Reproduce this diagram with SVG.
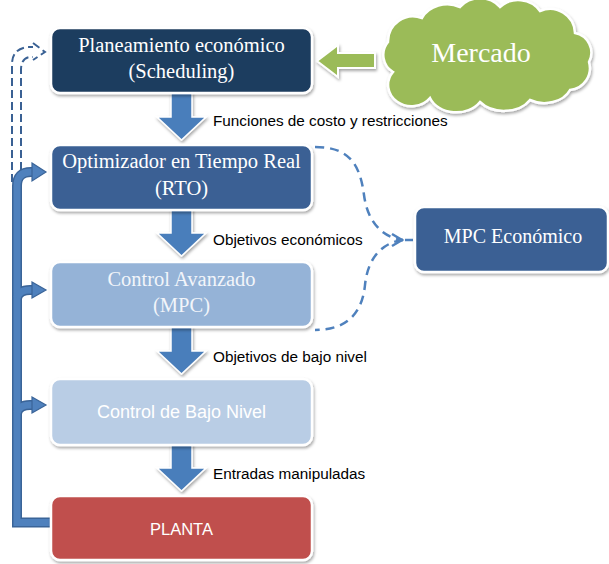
<svg xmlns="http://www.w3.org/2000/svg" width="609" height="564" viewBox="0 0 609 564">
<defs>
<filter id="sh" x="-10%" y="-10%" width="130%" height="140%">
<feDropShadow dx="1" dy="2" stdDeviation="1.5" flood-color="#000" flood-opacity="0.35"/>
</filter>
<path id="dn" d="M -10.5,0 H 10.5 V 24 H 24.5 L 0,47 L -24.5,24 H -10.5 Z"/>
</defs>
<style>
.box{stroke:#fff;stroke-width:2.5;filter:url(#sh)}
.serif{font-family:"Liberation Serif","Times New Roman",serif;text-anchor:middle}
.sans{font-family:"Liberation Sans",Arial,sans-serif}
.lbl{font-size:15.3px;fill:#000}
.darr{fill:#4a7ebb;stroke:#fff;stroke-width:1.5;filter:url(#sh)}
.fbo{fill:none;stroke:#3a6498;stroke-width:10}
.fbi{fill:none;stroke:#4f81bd;stroke-width:7}
.head{fill:#4f81bd;stroke:#3a6498;stroke-width:1.2}
.dash{fill:none;stroke:#4f81bd;stroke-width:2.5;stroke-dasharray:9 6}
.dash2{fill:none;stroke:#3a6194;stroke-width:2;stroke-dasharray:8 4}
</style>

<g id="connectors">
<use href="#dn" class="darr" transform="translate(181.5,93)"/>
<use href="#dn" class="darr" transform="translate(181.5,209)"/>
<use href="#dn" class="darr" transform="translate(181.5,327)"/>
<use href="#dn" class="darr" transform="translate(181.5,444)"/>
<text class="sans lbl" x="213" y="126">Funciones de costo y restricciones</text>
<text class="sans lbl" x="213" y="245">Objetivos económicos</text>
<text class="sans lbl" x="213" y="362">Objetivos de bajo nivel</text>
<text class="sans lbl" x="213" y="479">Entradas manipuladas</text>

<path d="M 375,53 H 338 V 45 L 317,61 L 338,77 V 68 H 375 Z" fill="#9bbb59" stroke="#fff" stroke-width="2" filter="url(#sh)"/>

<path class="dash2" d="M 12,182 V 64 Q 12,49 28,47 H 33"/>
<path class="dash2" d="M 33,43 L 45,52 L 33,60"/>
<path class="dash2" d="M 21,182 V 70 Q 21,58 30,57 H 33"/>

<g>
<path class="fbo" d="M 51,522.5 H 17 V 186 Q 17,172 31,172 H 34"/>
<path class="fbo" d="M 17,298 Q 19,290 30,290 H 34"/>
<path class="fbo" d="M 17,413 Q 19,405 30,405 H 34"/>
<path class="fbi" d="M 51,522.5 H 17 V 186 Q 17,172 31,172 H 34"/>
<path class="fbi" d="M 17,298 Q 19,290 30,290 H 34"/>
<path class="fbi" d="M 17,413 Q 19,405 30,405 H 34"/>
<polygon class="head" points="32,163 46,172 32,181"/>
<polygon class="head" points="32,282 46,290 32,298"/>
<polygon class="head" points="32,397 46,405 32,413"/>
</g>

<path class="dash" d="M 315,147 C 350,147 360,165 364,195 C 368,225 385,238 403,240"/>
<path class="dash" d="M 403,240 C 385,242 368,255 365,285 C 362,315 345,330 315,330"/>
<path d="M 392,234 L 402,240 L 392,246" fill="none" stroke="#4f81bd" stroke-width="2.5"/>
<path d="M 405,240 H 413" fill="none" stroke="#4f81bd" stroke-width="2.5"/>
</g>

<g id="planeamiento">
<rect class="box" x="51" y="28" width="261" height="65" rx="9" fill="#1f3c5e"/>
<text class="serif" x="181.5" y="52" font-size="20.5" fill="#fff">Planeamiento económico</text>
<text class="serif" x="181.5" y="78" font-size="20.5" fill="#fff">(Scheduling)</text>
</g>
<g id="rto">
<rect class="box" x="51" y="145" width="261" height="65" rx="9" fill="#3a6194"/>
<text class="serif" x="181.5" y="168" font-size="20.5" fill="#fff">Optimizador en Tiempo Real</text>
<text class="serif" x="181.5" y="195" font-size="20.5" fill="#fff">(RTO)</text>
</g>
<g id="mpc">
<rect class="box" x="51" y="262" width="261" height="65" rx="9" fill="#95b3d7"/>
<text class="serif" x="181.5" y="286" font-size="20.5" fill="#f2f5fa">Control Avanzado</text>
<text class="serif" x="181.5" y="312" font-size="20.5" fill="#f2f5fa">(MPC)</text>
</g>
<g id="bajo">
<rect class="box" x="51" y="379" width="261" height="66" rx="9" fill="#b9cde5"/>
<text class="sans" x="181.5" y="418" font-size="18" fill="#fff" text-anchor="middle">Control de Bajo Nivel</text>
</g>
<g id="planta">
<rect class="box" x="51" y="496" width="261" height="64" rx="9" fill="#c0504d"/>
<text class="sans" x="181.5" y="535" font-size="16.5" fill="#fff" text-anchor="middle">PLANTA</text>
</g>
<g id="mpceco">
<rect class="box" x="415" y="207" width="193" height="65" rx="9" fill="#3a6194"/>
<text class="serif" x="513" y="243" font-size="20" fill="#fff">MPC Económico</text>
</g>
<g id="mercado">
<path d="M 393,72 A 20,20 0 0 1 388,42 A 25,25 0 0 1 422,18 A 28,24 0 0 1 460,7 A 25,22 0 0 1 500,7 A 26,24 0 0 1 540,11 A 25,25 0 0 1 575,33 A 20,20 0 0 1 589,62 A 22,22 0 0 1 570,90 A 28,22 0 0 1 530,100 A 30,22 0 0 1 480,102 A 28,22 0 0 1 430,98 A 22,20 0 0 1 393,72 Z" fill="#9bbb59" stroke="#fff" stroke-width="2.5" filter="url(#sh)"/>
<text class="serif" x="481" y="62" font-size="28" fill="#fff">Mercado</text>
</g>
</svg>
